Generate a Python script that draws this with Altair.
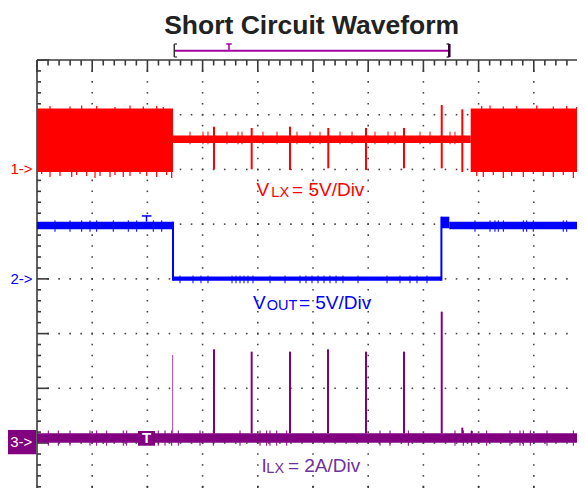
import altair as alt
import pandas as pd

# ---------------- data (screen divisions: x 0..10 from left edge, y -4..4 from centre) -------------
TITLE = "Short Circuit Waveform"

# Channel 1: V_LX (red)
vlx_dense_sections = [[0.0, 2.464], [7.857, 10.0]]
vlx_dense_y = [1.954, 3.114]
vlx_thin_x = [2.464, 7.857]
vlx_thin_y = [2.484, 2.621]
vlx_spike_x = [3.207, 3.889, 4.583, 5.277, 5.960, 6.649, 7.332, 7.705]
vlx_spike_top = [2.781, 2.758, 2.782, 2.758, 2.758, 2.758, 3.178, 3.099]
vlx_spike_bot = [2.003, 2.003, 1.990, 2.021, 1.990, 2.021, 2.021, 1.954]
vlx_top_noise_x = [0.236, 0.598, 0.809, 1.081, 1.413, 1.685, 1.926, 2.168, 2.288,
                   8.056, 8.207, 8.448, 8.690, 9.053, 9.353, 9.596, 9.777]
vlx_top_noise_y = [3.16, 3.15, 3.17, 3.16, 3.14, 3.17, 3.15, 3.16, 3.14,
                   3.16, 3.17, 3.15, 3.16, 3.17, 3.15, 3.16, 3.14]
vlx_bot_noise_x = [0.085, 0.236, 0.417, 0.629, 0.719, 0.900, 1.051, 1.141, 1.322, 1.413,
                   1.563, 1.685, 1.866, 1.987, 2.168, 2.349, 2.440,
                   7.966, 8.085, 8.266, 8.448, 8.599, 8.810, 8.991, 9.172, 9.353, 9.534,
                   9.716, 9.837]
vlx_bot_noise_y = [1.917, 1.862, 1.880, 1.862, 1.898, 1.880, 1.844, 1.880, 1.862, 1.898,
                   1.862, 1.880, 1.917, 1.880, 1.862, 1.898, 1.844,
                   1.880, 1.862, 1.898, 1.844, 1.880, 1.862, 1.917, 1.880, 1.862, 1.898,
                   1.844, 1.880]
vlx_thin_noise_x = [2.772, 3.007, 3.098, 3.442, 3.641, 3.714, 4.094, 4.348, 4.710, 4.946,
                    5.127, 5.489, 5.707, 6.123, 6.359, 6.486, 6.938, 7.120, 7.482, 7.572]

# Channel 2: V_OUT (blue)
vout_high_sections = [[0.0, 2.464], [7.469, 10.0]]
vout_high_y = [0.906, 1.045]
vout_low_x = [2.464, 7.326]
vout_low_y = [-0.033, 0.044]
vout_overshoot_x = [7.326, 7.469]
vout_overshoot_y = [0.925, 1.137]
vout_high_noise_x = [0.326, 0.598, 0.809, 0.960, 1.081, 1.382, 1.654, 1.806, 2.107, 2.259,
                     7.935, 8.207, 8.297, 8.357, 8.448, 8.810, 8.871, 8.991, 9.534, 9.596]
vout_low_noise_x = [2.591, 2.826, 2.971, 3.098, 3.533, 3.605, 3.678, 3.750, 3.822, 3.913,
                    4.221, 4.493, 4.764, 4.873, 4.982, 5.091, 5.199, 5.308, 5.417, 5.543,
                    5.815, 6.341, 6.576, 6.757, 6.884, 7.065]

# Channel 3: I_LX (purple)
ilx_band_y = [-2.994, -2.822]
ilx_spike_x = [2.458, 3.207, 3.889, 4.583, 5.272, 5.960, 6.649, 7.332, 7.705, 7.875]
ilx_spike_top = [-1.391, -1.287, -1.330, -1.330, -1.287, -1.330, -1.330, -0.599, -2.719, -2.780]
ilx_noise_x = [0.205, 0.386, 0.598, 0.960, 1.081, 1.263, 1.563, 1.625, 2.197, 2.319, 2.440,
               2.560, 2.953, 3.194, 3.678, 4.040, 4.161, 4.221, 4.343, 4.524, 6.214, 6.395,
               6.727, 7.572, 7.723, 7.875, 8.147, 8.569, 8.750, 8.810, 8.937, 9.239, 9.716]

# Trigger / record-window bar above the screen
window_x = [2.487, 7.469]
window_trigger_x = 3.478
trigger_x = 1.984

# faint watermark fragments at the top edge (y, left, right)
wm_group = ["a", "a", "b", "b"]
wm_y = [5.097, 4.859, 5.097, 4.893]
wm_left = [5.447, 5.815, 7.917, 7.947]
wm_right = [6.158, 6.161, 8.524, 8.315]

RED, BLUE, PURPLE, TXT_PURPLE = "#FF0000", "#0000FF", "#800080", "#7030A0"
FONT = "Liberation Sans"

# ---------------- scales ----------------
W, H = 540, 428
PX_X, PX_Y = 55.2, 54.72
XS = alt.Scale(domain=[0, W / PX_X], nice=False, zero=False)
YS = alt.Scale(domain=[4 - H / PX_Y, 4], nice=False, zero=False)


def X(f):
    return alt.X(f, type="quantitative", scale=XS, axis=None)


def Y(f):
    return alt.Y(f, type="quantitative", scale=YS, axis=None)


# ---------------- graticule ----------------
dots = []
for r in range(-3, 4):
    for k in range(1, 50):
        dots.append({"x": k * 0.2, "y": r})
for c in range(1, 10):
    for k in range(-19, 20):
        dots.append({"x": c, "y": k * 0.2})
dots = pd.DataFrame(dots)

frame_tl = [
    {"x": 0, "x2": 10, "y": 4, "y2": 4},
    {"x": 0, "x2": 0, "y": -4, "y2": 4},
]
frame_br = [
    {"x": 10, "x2": 10, "y": -4, "y2": 4},
    {"x": 0, "x2": 10, "y": -4, "y2": -4},
]
for i in range(51):
    major = i % 5 == 0
    xx = i * 0.2
    frame_tl.append({"x": xx, "x2": xx, "y": 4, "y2": 4 - (12 if major else 5.5) / PX_Y})
    frame_br.append({"x": xx, "x2": xx, "y": -4, "y2": -4 + (12 if major else 7) / PX_Y})
for j in range(41):
    major = j % 5 == 0
    yy = -4 + j * 0.2
    frame_tl.append({"x": 0, "x2": (12 if major else 4) / PX_X, "y": yy, "y2": yy})
    frame_br.append({"x": 10, "x2": 10 - (12 if major else 7) / PX_X, "y": yy, "y2": yy})
frame_tl = pd.DataFrame(frame_tl)
frame_br = pd.DataFrame(frame_br)

# ---------------- traces ----------------
rects = []
for a, b in vlx_dense_sections:
    rects.append({"x": a, "x2": b, "y": vlx_dense_y[0], "y2": vlx_dense_y[1], "c": RED})
rects.append({"x": vlx_thin_x[0], "x2": vlx_thin_x[1], "y": vlx_thin_y[0], "y2": vlx_thin_y[1], "c": RED})
for a, b in vout_high_sections:
    rects.append({"x": a, "x2": b, "y": vout_high_y[0], "y2": vout_high_y[1], "c": BLUE})
rects.append({"x": vout_low_x[0], "x2": vout_low_x[1], "y": vout_low_y[0], "y2": vout_low_y[1], "c": BLUE})
rects.append({"x": vout_overshoot_x[0], "x2": vout_overshoot_x[1], "y": vout_overshoot_y[0],
              "y2": vout_overshoot_y[1], "c": BLUE})
rects.append({"x": 0, "x2": 10, "y": ilx_band_y[0], "y2": ilx_band_y[1], "c": PURPLE})
rects.append({"x": 1.830, "x2": 2.138, "y": -3.049, "y2": -2.780, "c": PURPLE})
rects = pd.DataFrame(rects)

marker_boxes = pd.DataFrame([{"x": -0.549, "x2": -0.018, "y": -3.205, "y2": -2.761, "c": PURPLE}])

rules = []
for x, t, b in zip(vlx_spike_x, vlx_spike_top, vlx_spike_bot):
    rules.append({"x": x, "x2": x, "y": b, "y2": t, "c": RED, "w": 2})
for x, t in zip(vlx_top_noise_x, vlx_top_noise_y):
    rules.append({"x": x, "x2": x, "y": 3.09, "y2": t, "c": RED, "w": 1.2})
for x, b in zip(vlx_bot_noise_x, vlx_bot_noise_y):
    rules.append({"x": x, "x2": x, "y": b, "y2": 1.97, "c": RED, "w": 1.2})
for x in vlx_thin_noise_x:
    rules.append({"x": x, "x2": x, "y": 2.46, "y2": 2.69, "c": RED, "w": 1})
rules.append({"x": vout_low_x[0], "x2": vout_low_x[0], "y": vout_low_y[0], "y2": vout_high_y[1],
              "c": BLUE, "w": 2})
rules.append({"x": vout_low_x[1], "x2": vout_low_x[1], "y": vout_low_y[0], "y2": vout_overshoot_y[1],
              "c": BLUE, "w": 2})
for x in vout_high_noise_x:
    rules.append({"x": x, "x2": x, "y": 0.86, "y2": 1.07, "c": BLUE, "w": 1})
for x in vout_low_noise_x:
    rules.append({"x": x, "x2": x, "y": -0.08, "y2": 0.06, "c": BLUE, "w": 1})
rules.append({"x": trigger_x - 0.085, "x2": trigger_x + 0.09, "y": 1.150, "y2": 1.150, "c": BLUE, "w": 1.5})
rules.append({"x": trigger_x, "x2": trigger_x, "y": 1.045, "y2": 1.150, "c": BLUE, "w": 1.5})
for i, (x, t) in enumerate(zip(ilx_spike_x, ilx_spike_top)):
    rules.append({"x": x, "x2": x, "y": ilx_band_y[1], "y2": t,
                  "c": "#a040a0" if i == 0 else PURPLE, "w": 1 if i == 0 else 2})
for x in ilx_noise_x:
    rules.append({"x": x, "x2": x, "y": -3.05, "y2": -2.77, "c": PURPLE, "w": 1})
rules = pd.DataFrame(rules)

wbar = [
    {"x": window_x[0], "x2": window_x[1], "y": 4.170, "y2": 4.170, "c": "#a000a0", "w": 2},
    {"x": window_x[0], "x2": window_x[0], "y": 4.055, "y2": 4.293, "c": "#333333", "w": 1.5},
    {"x": window_x[0], "x2": window_x[0] + 0.05, "y": 4.293, "y2": 4.293, "c": "#333333", "w": 1.2},
    {"x": window_x[0], "x2": window_x[0] + 0.05, "y": 4.055, "y2": 4.055, "c": "#333333", "w": 1.2},
    {"x": window_x[1], "x2": window_x[1], "y": 4.055, "y2": 4.293, "c": "#300030", "w": 2.5},
    {"x": window_x[1] - 0.05, "x2": window_x[1], "y": 4.293, "y2": 4.293, "c": "#300030", "w": 1.2},
    {"x": window_x[1] - 0.05, "x2": window_x[1], "y": 4.055, "y2": 4.055, "c": "#300030", "w": 1.2},
    {"x": window_trigger_x - 0.05, "x2": window_trigger_x + 0.05, "y": 4.293, "y2": 4.293,
     "c": "#a000a0", "w": 1.5},
    {"x": window_trigger_x, "x2": window_trigger_x, "y": 4.170, "y2": 4.293, "c": "#a000a0", "w": 1.5},
]
wbar = pd.DataFrame(wbar)

wm = pd.DataFrame({"g": wm_group, "y": wm_y, "xl": wm_left, "xr": wm_right})


def text_layer(rows, **kw):
    return alt.Chart(pd.DataFrame(rows)).mark_text(font=FONT, baseline="alphabetic", **kw).encode(
        x=X("x"), y=Y("y"), text="t:N")


def rule_layer(df, clip, **kw):
    enc = dict(x=X("x"), x2="x2", y=Y("y"), y2="y2")
    if "c" in df.columns:
        enc["color"] = alt.Color("c:N", scale=None)
        enc["strokeWidth"] = alt.StrokeWidth("w:Q", scale=None)
    return alt.Chart(df).mark_rule(clip=clip, **kw).encode(**enc)


layers = [
    alt.Chart(wm).mark_area(orient="horizontal", color="#d8d8d8", opacity=1).encode(
        y=Y("y"), x=X("xl"), x2="xr", detail="g:N", order="y:Q"),
    alt.Chart(dots).mark_square(size=2.5, color="#444444", opacity=1, clip=True).encode(
        x=X("x"), y=Y("y")),
    rule_layer(frame_tl, False, color="#3a3a3a", strokeWidth=1.6),
    rule_layer(frame_br, True, color="#3a3a3a", strokeWidth=1.6),
    alt.Chart(rects).mark_rect(clip=True).encode(
        x=X("x"), x2="x2", y=Y("y"), y2="y2", color=alt.Color("c:N", scale=None)),
    alt.Chart(marker_boxes).mark_rect().encode(
        x=X("x"), x2="x2", y=Y("y"), y2="y2", color=alt.Color("c:N", scale=None)),
    rule_layer(rules, True),
    rule_layer(wbar, False),
    text_layer([{"x": 4.975, "y": 4.470, "t": TITLE}], align="center", fontSize=26.5,
               fontWeight="bold", color="#222222"),
    text_layer([{"x": -0.0815, "y": 1.917, "t": "1->"}], align="right", fontSize=15, color=RED),
    text_layer([{"x": -0.0815, "y": -0.099, "t": "2->"}], align="right", fontSize=15, color=BLUE),
    text_layer([{"x": -0.085, "y": -3.067, "t": "3->"}], align="right", fontSize=15, color="white"),
    text_layer([{"x": 1.984, "y": -3.004, "t": "T"}], align="center", fontSize=15,
               fontWeight="bold", color="white"),
    text_layer([{"x": 3.975, "y": 1.515, "t": "V"}, {"x": 4.620, "y": 1.515, "t": "= 5V/Div"}],
               align="left", fontSize=19, color=RED),
    text_layer([{"x": 4.245, "y": 1.488, "t": "LX"}], align="left", fontSize=14.5, color=RED),
    text_layer([{"x": 3.913, "y": -0.550, "t": "V"}, {"x": 4.745, "y": -0.550, "t": "= 5V/Div"}],
               align="left", fontSize=19, color=BLUE),
    text_layer([{"x": 4.160, "y": -0.577, "t": "OUT"}], align="left", fontSize=14.5, color=BLUE),
    text_layer([{"x": 4.067, "y": -3.529, "t": "I"}, {"x": 4.545, "y": -3.529, "t": "= 2A/Div"}],
               align="left", fontSize=19, color=TXT_PURPLE),
    text_layer([{"x": 4.155, "y": -3.553, "t": "LX"}], align="left", fontSize=14.5, color=TXT_PURPLE),
]

chart = alt.layer(*layers).properties(
    width=W, height=H,
    padding={"left": 29, "top": 52, "right": 0, "bottom": 0},
    autosize=alt.AutoSizeParams(type="none"),
    background="white",
).configure_view(stroke=None)

chart.save("out.html", embed_options={"renderer": "svg", "actions": False})
